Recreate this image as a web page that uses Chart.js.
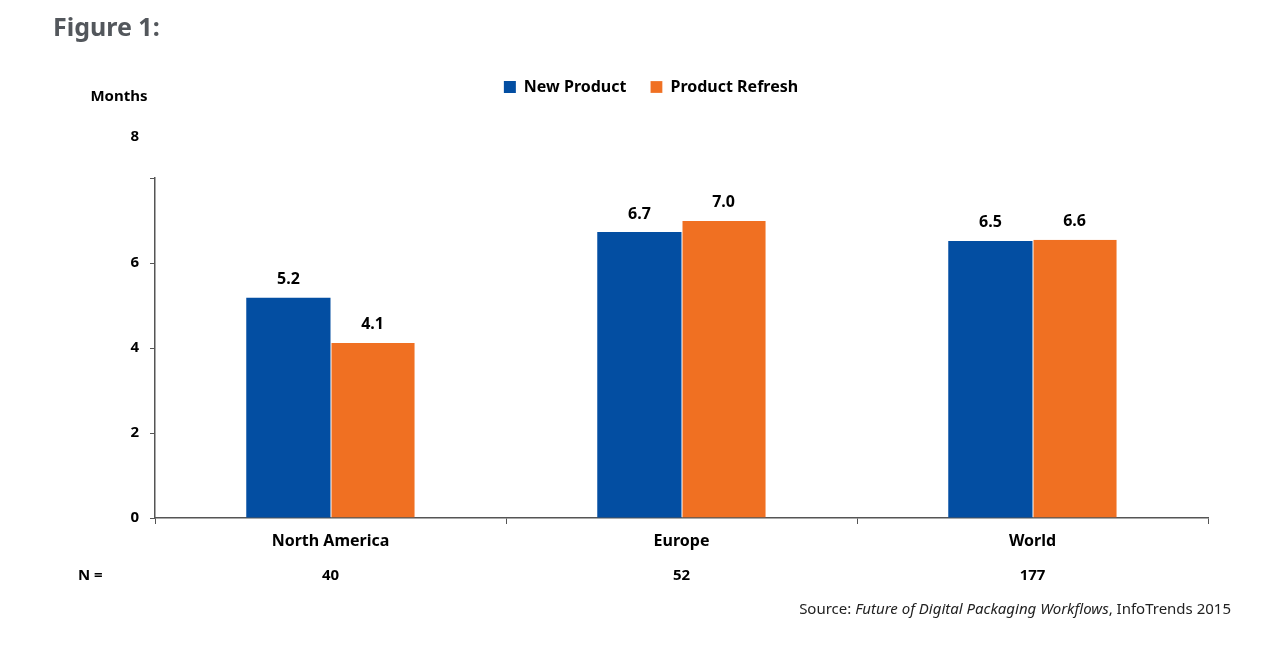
<!DOCTYPE html>
<html>
<head>
<meta charset="utf-8">
<script src="https://cdn.jsdelivr.net/npm/chart.js@4/dist/chart.umd.min.js"></script>
<style>
  html, body { margin: 0; padding: 0; background: #fff; }
  #wrap { width: 1265px; height: 649px; position: relative; }
</style>
</head>
<body>
<div id="wrap"><canvas id="chart"></canvas></div>
<script>
const regions = ["North America", "Europe", "World"]
const newProduct = [5.18, 6.73, 6.52]
const productRefresh = [4.12, 6.99, 6.55]
const newProductLabels = ["5.2", "6.7", "6.5"]
const refreshLabels = ["4.1", "7.0", "6.6"]
const sampleSizes = ["40", "52", "177"]
const yTicks = [0, 2, 4, 6, 8]

const FONT = "'Noto Sans', sans-serif"
const BLUE = "#034ea2"
const ORANGE = "#f07022"

// legend gets extra height so the plot starts lower, like the original
const tallLegend = {
	id: "tallLegend",
	beforeInit(chart) {
		const fit = chart.legend.fit
		chart.legend.fit = function () {
			fit.call(this)
			this.height = 123
		}
	}
}

const extras = {
	id: "extras",
	afterDatasetsDraw(chart) {
		const ctx = chart.ctx
		ctx.save()
		ctx.fillStyle = "#000"
		ctx.font = "bold 16px " + FONT
		ctx.textAlign = "center"
		ctx.textBaseline = "middle"
		const labelSets = [newProductLabels, refreshLabels]
		chart.data.datasets.forEach((ds, i) => {
			chart.getDatasetMeta(i).data.forEach((bar, j) => {
				ctx.fillText(labelSets[i][j], bar.x, bar.y - 18)
			})
		})
		ctx.restore()
	},
	afterDraw(chart) {
		const ctx = chart.ctx
		const x = chart.scales.x
		const y = chart.scales.y
		ctx.save()

		ctx.fillStyle = "#53575c"
		ctx.font = "bold 25px " + FONT
		ctx.textAlign = "left"
		ctx.textBaseline = "middle"
		ctx.fillText("Figure 1:", 53, 29)

		ctx.fillStyle = "#000"
		ctx.font = "bold 15px " + FONT
		ctx.textAlign = "center"
		ctx.fillText("Months", 119, 97)

		// top value label sits well above its tick
		ctx.textAlign = "right"
		ctx.fillText(String(yTicks[yTicks.length - 1]), 139, y.getPixelForValue(8) - 41)

		ctx.textAlign = "left"
		ctx.fillText("N =", 78, 576)
		ctx.textAlign = "center"
		sampleSizes.forEach((n, i) => {
			ctx.fillText(n, x.getPixelForValue(i), 576)
		})

		// source line, right aligned, title in italics
		const parts = [
			["Source: ", "15px " + FONT],
			["Future of Digital Packaging Workflows", "italic 15px " + FONT],
			[", InfoTrends 2015", "15px " + FONT]
		]
		let total = 0
		parts.forEach(p => { ctx.font = p[1]; total += ctx.measureText(p[0]).width })
		let px = 1231 - total
		ctx.textAlign = "left"
		ctx.fillStyle = "#222"
		parts.forEach(p => {
			ctx.font = p[1]
			ctx.fillText(p[0], px, 610)
			px += ctx.measureText(p[0]).width
		})
		ctx.restore()
	}
}

new Chart(document.getElementById("chart"), {
	type: "bar",
	data: {
		labels: regions,
		datasets: [
			{
				label: "New Product",
				data: newProduct,
				backgroundColor: BLUE,
				borderWidth: 0
			},
			{
				label: "Product Refresh",
				data: productRefresh,
				backgroundColor: ORANGE,
				borderColor: "#fff",
				borderWidth: { left: 1, top: 0, right: 0, bottom: 0 },
				borderSkipped: false
			}
		]
	},
	plugins: [tallLegend, extras],
	options: {
		responsive: true,
		maintainAspectRatio: false,
		animation: false,
		layout: { padding: { top: 55, right: 57, left: 94, bottom: 0 } },
		datasets: {
			bar: { categoryPercentage: 0.48, barPercentage: 1.0 }
		},
		plugins: {
			tooltip: { enabled: false },
			legend: {
				position: "top",
				align: "center",
				labels: {
					color: "#000",
					font: { family: FONT, size: 16, weight: "bold" },
					boxWidth: 12,
					boxHeight: 12,
					padding: 24
				}
			}
		},
		scales: {
			x: {
				afterFit(scale) { scale.height = 131 },
				grid: {
					offset: true,
					drawOnChartArea: false,
					drawTicks: true,
					tickLength: 6,
					color: "#555"
				},
				border: { color: "#555", width: 1.5 },
				ticks: {
					color: "#000",
					padding: 8,
					font: { family: FONT, size: 16, weight: "bold" }
				}
			},
			y: {
				min: 0,
				max: 8,
				afterFit(scale) { scale.width = 61 },
				afterBuildTicks(scale) { scale.ticks = yTicks.map(v => ({ value: v })) },
				grid: {
					drawOnChartArea: false,
					drawTicks: true,
					tickLength: 5,
					color: "#555"
				},
				border: { color: "#555", width: 1.5 },
				ticks: {
					color: "#000",
					padding: 11,
					font: { family: FONT, size: 15, weight: "bold" },
					callback: v => (v === 8 ? "" : String(v))
				}
			}
		}
	}
})
</script>
</body>
</html>
